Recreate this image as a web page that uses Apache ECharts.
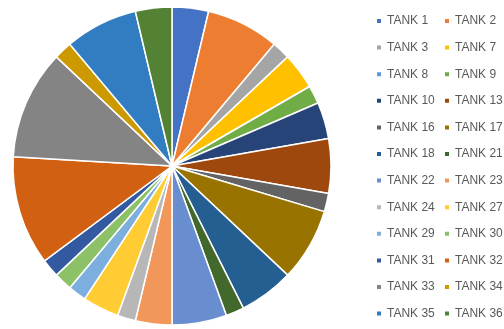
<!DOCTYPE html>
<html><head><meta charset="utf-8">
<script src="https://cdn.jsdelivr.net/npm/echarts@6/dist/echarts.min.js"></script>
<style>html,body{margin:0;padding:0;background:#fff}#c{width:504px;height:329px}</style>
</head><body><div id="c"></div>
<script>
const categories = ["TANK 1","TANK 2","TANK 3","TANK 7","TANK 8","TANK 9","TANK 10","TANK 13","TANK 16","TANK 17","TANK 18","TANK 21","TANK 22","TANK 23","TANK 24","TANK 27","TANK 29","TANK 30","TANK 31","TANK 32","TANK 33","TANK 34","TANK 35","TANK 36"];
const values = [2,4,1,2,0,1,2,3,1,4,3,1,3,2,1,2,1,1,1,6,6,1,4,2];
const colors = ["#4472C4","#ED7D31","#A5A5A5","#FFC000","#5B9BD5","#70AD47","#264478","#9E480E","#636363","#997300","#255E91","#43682B","#698ED0","#F1975A","#B7B7B7","#FFCD33","#7CAFDD","#8CC168","#335AA1","#D26012","#848484","#CC9A00","#327DC2","#548235"];

const col1 = categories.filter((c,i)=>i%2===0);
const col2 = categories.filter((c,i)=>i%2===1);
const legendBase = {
  orient:'vertical', top:14, height:315, padding:0, itemWidth:6, itemHeight:6, itemGap:12.6, icon:'rect',
  textStyle:{fontFamily:'Liberation Sans', fontSize:12, color:'#595959', lineHeight:14}
};
const chart = echarts.init(document.getElementById('c'), null, {renderer:'canvas'});
chart.setOption({
  animation:false,
  color: colors,
  legend:[
    Object.assign({}, legendBase, {left:375, data:col1}),
    Object.assign({}, legendBase, {left:443, data:col2})
  ],
  series:[{
    type:'pie',
    center:[172,166],
    radius:[0,159],
    startAngle:90,
    clockwise:true,
    label:{show:false},
    labelLine:{show:false},
    itemStyle:{borderColor:'#fff', borderWidth:1.5},
    emphasis:{disabled:true},
    data: categories.map((n,i)=>({name:n, value:values[i]}))
  }]
});
</script></body></html>
